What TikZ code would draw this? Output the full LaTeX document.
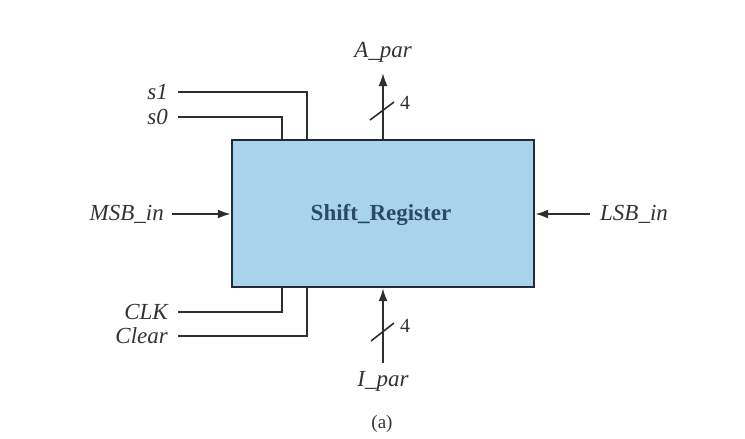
\documentclass[tikz,border=0pt]{standalone}
\usepackage{fontspec}
\setmainfont{Liberation Serif}
\usetikzlibrary{arrows.meta}
\definecolor{boxfill}{HTML}{A9D3EC}
\definecolor{boxline}{HTML}{1F2D3A}
\definecolor{wire}{HTML}{2E2E2E}
\definecolor{lbl}{HTML}{333333}
\definecolor{title}{HTML}{2B4A66}
\tikzset{
  lab/.style={font=\fontsize{23}{26}\selectfont\itshape, text=lbl, inner sep=0pt},
  wireline/.style={draw=wire, line width=2pt},
  sig/.style={wireline, -{Latex[length=13pt,width=9pt]}},
  bus/.style={draw=wire, line width=1.6pt},
  num/.style={font=\fontsize{20}{22}\selectfont, text=lbl, inner sep=0pt},
}
\begin{document}
\begin{tikzpicture}[x=1pt,y=-1pt]
\useasboundingbox (0,0) rectangle (745,439);
% main box
\node[draw=boxline, line width=2.4pt, fill=boxfill, minimum width=302pt, minimum height=147pt, inner sep=0pt]
  (box) at (383,213.5) {};
\node[font=\fontsize{23}{26}\selectfont\bfseries, text=title] (title) at (381,215) {Shift\_Register};
% control labels
\node[lab, anchor=east] (s1) at (168,92) {s1};
\node[lab, anchor=east] (s0) at (168,117) {s0};
\node[lab, anchor=east] (clk) at (168,312) {CLK};
\node[lab, anchor=east] (clr) at (168,336) {Clear};
\coordinate (s1in) at (307,140);
\coordinate (s0in) at (282,140);
\coordinate (clkin) at (282,287);
\coordinate (clrin) at (307,287);
\draw[wireline] ([xshift=10pt]s1.east) -| (s1in);
\draw[wireline] ([xshift=10pt]s0.east) -| (s0in);
\draw[wireline] ([xshift=10pt]clk.east) -| (clkin);
\draw[wireline] ([xshift=10pt]clr.east) -| (clrin);
% serial inputs
\node[lab, anchor=east] (msb) at (164,214) {MSB\_in};
\node[lab, anchor=west] (lsb) at (600,214) {LSB\_in};
\draw[sig] ([xshift=8pt]msb.east) -- (box.west |- msb.east);
\draw[sig] ([xshift=-10pt]lsb.west) -- (box.east |- lsb.west);
% parallel output
\node[lab] (apar) at (383,52) {A\_par};
\coordinate (atip) at (383,73);
\draw[sig] (box.north) -- (atip);
\coordinate (as1) at (370,120);
\coordinate (as2) at (394,102);
\draw[bus] (as1) -- (as2);
\node[num] (a4) at (405,103) {4};
% parallel input
\node[lab] (ipar) at (383,381) {I\_par};
\coordinate (ibot) at (383,363);
\draw[sig] (ibot) -- (box.south);
\coordinate (is1) at (371,341);
\coordinate (is2) at (394,323);
\draw[bus] (is1) -- (is2);
\node[num] (i4) at (405,326) {4};
% caption
\node[font=\fontsize{19}{21}\selectfont, text=lbl] (cap) at (382,424) {(a)};
\end{tikzpicture}
\end{document}
